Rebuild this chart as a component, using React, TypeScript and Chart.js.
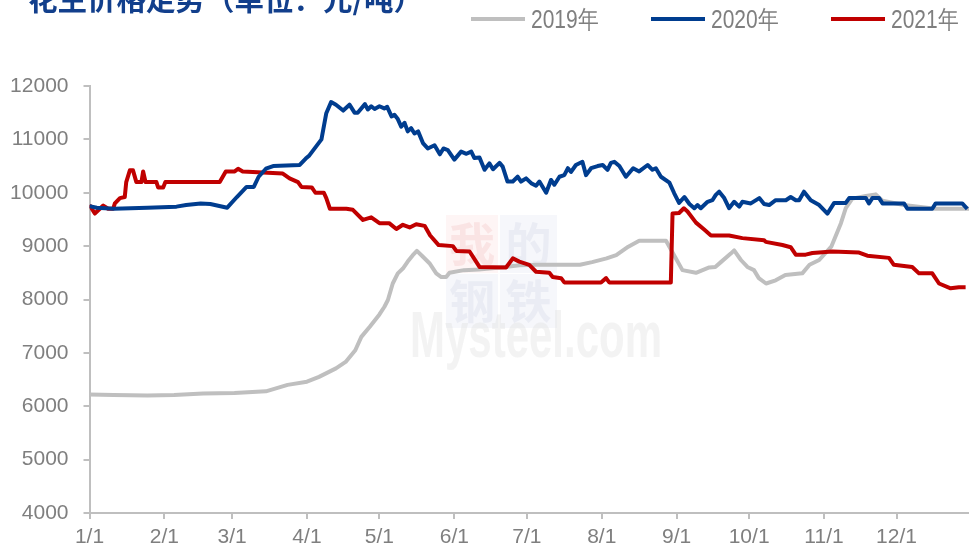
import React, { useEffect, useRef } from 'react';
import { Chart, registerables } from 'chart.js';

Chart.register(...registerables);

const titleText = '花生价格走势（单位：元/吨）';
const seriesNames = ['2019年', '2020年', '2021年'];
const seriesColors = ['#bfbfbf', '#003d8f', '#c00000'];

const monthTickDays = [0, 31, 59, 90, 120, 151, 181, 212, 243, 273, 304, 334];
const monthTickLabels = ['1/1', '2/1', '3/1', '4/1', '5/1', '6/1', '7/1', '8/1', '9/1', '10/1', '11/1', '12/1'];
const yMin = 4000;
const yMax = 12000;
const yStep = 1000;

const days2019 = [0, 10, 24, 35, 47, 60, 73, 82, 90, 95, 102, 106, 110, 112.5, 116, 120, 122, 123.5, 125.5, 127.6, 129.7, 131.7, 133.8, 135.5, 138, 140.7, 143.5, 145.6, 147.6, 149, 155, 161, 170, 178, 185, 203, 208, 214, 218, 223, 227.5, 238.6, 242.7, 245.4, 251, 256.5, 259, 261.3, 265.4, 266.8, 269.6, 272.3, 275, 277, 280, 284, 288, 295, 298, 302, 307, 311, 313, 315.7, 321.3, 325.4, 328.2, 337, 350, 364];
const price2019 = [6220, 6210, 6200, 6210, 6240, 6250, 6280, 6400, 6460, 6550, 6710, 6830, 7050, 7300, 7490, 7720, 7860, 7990, 8300, 8490, 8580, 8710, 8830, 8910, 8800, 8680, 8490, 8420, 8420, 8500, 8550, 8560, 8600, 8640, 8650, 8650, 8700, 8770, 8830, 8990, 9100, 9100, 8770, 8550, 8500, 8600, 8610, 8700, 8860, 8920, 8740, 8610, 8550, 8400, 8300, 8360, 8460, 8490, 8650, 8740, 8990, 9430, 9710, 9890, 9940, 9970, 9850, 9770, 9700, 9700];

const days2020 = [0, 3, 10, 24, 36, 40, 46, 50, 57, 61, 65, 68, 70, 73, 76, 87, 89.5, 91, 96, 98, 100, 102, 105, 107.6, 109.7, 111, 114, 115.2, 116.6, 118, 120, 122, 123.2, 125, 126.2, 127.6, 129, 130.4, 131.7, 133.1, 134.5, 136, 138, 140, 142.8, 145, 146.5, 148.3, 151, 153.8, 156, 158, 159.3, 161.4, 163.5, 165.5, 167, 169.7, 171, 173, 175.2, 177.2, 178.6, 180.7, 182.8, 184.8, 186.2, 189, 191, 192.4, 194.5, 196.5, 198, 199.3, 201.3, 204, 205.5, 207.6, 210.3, 212.4, 214.4, 215.8, 217.2, 219.3, 222, 225, 227.5, 231, 233, 234.4, 236.5, 240, 242, 244, 246.2, 248.3, 250.3, 251.6, 253, 255.8, 257.8, 259.2, 260.6, 262.7, 264.7, 266.8, 268.9, 270.2, 273.7, 277.2, 279.2, 281.3, 284, 288.2, 290.2, 292.3, 293.7, 295.7, 298.5, 302, 305.4, 308.2, 313, 314.4, 321.3, 322.6, 324, 326.8, 328.2, 337.1, 338.5, 348.8, 350.2, 361.2, 363.3];
const price2020 = [9750, 9720, 9700, 9720, 9740, 9770, 9800, 9790, 9720, 9920, 10110, 10110, 10300, 10450, 10500, 10520, 10640, 10700, 11000, 11490, 11700, 11650, 11540, 11650, 11500, 11500, 11660, 11560, 11620, 11570, 11620, 11580, 11610, 11430, 11460, 11380, 11240, 11310, 11150, 11210, 11110, 11150, 10930, 10830, 10890, 10720, 10830, 10800, 10620, 10770, 10730, 10770, 10650, 10660, 10430, 10550, 10440, 10560, 10490, 10210, 10210, 10300, 10210, 10270, 10180, 10130, 10210, 10000, 10240, 10150, 10300, 10330, 10460, 10390, 10520, 10580, 10330, 10460, 10500, 10520, 10430, 10560, 10580, 10500, 10300, 10460, 10400, 10520, 10430, 10460, 10300, 10190, 9990, 9810, 9920, 9790, 9710, 9770, 9710, 9830, 9860, 9960, 10020, 9900, 9710, 9830, 9740, 9830, 9800, 9900, 9790, 9770, 9860, 9860, 9920, 9860, 9860, 10020, 9860, 9770, 9610, 9810, 9810, 9900, 9900, 9800, 9900, 9900, 9800, 9800, 9700, 9700, 9800, 9800, 9700];

const days2021 = [0, 2.2, 5.7, 7.7, 9.8, 10.5, 12.6, 14.6, 15.2, 16.7, 18, 19.4, 21.5, 22.2, 23.2, 27.7, 28.4, 30.5, 31.4, 53.9, 56.4, 60.1, 61.5, 63.4, 71.7, 80, 82.8, 86.3, 87.7, 92, 93.5, 97, 98, 99.5, 106.3, 109, 113.2, 116.6, 120, 124, 127, 129.7, 132.5, 135.2, 138.7, 141, 144.5, 150.4, 151.8, 157.3, 161.4, 172.4, 175.2, 177.9, 182, 184.8, 190.3, 191.7, 195.2, 196.5, 211.7, 213.8, 215.1, 240.6, 241.3, 244, 246, 247.5, 251, 254.4, 257.2, 264.7, 270.2, 279.2, 279.9, 286.8, 290.2, 292.3, 296.4, 299.2, 307.4, 318.5, 321.9, 330.9, 332.9, 340.5, 343.3, 348.8, 351.6, 356.4, 359.8, 362.6];
const price2021 = [9770, 9610, 9760, 9700, 9700, 9800, 9900, 9920, 10200, 10420, 10420, 10200, 10200, 10400, 10200, 10200, 10100, 10100, 10200, 10200, 10400, 10400, 10450, 10400, 10380, 10360, 10270, 10200, 10110, 10100, 10000, 10000, 9900, 9700, 9700, 9680, 9490, 9540, 9430, 9430, 9320, 9400, 9350, 9410, 9380, 9200, 9020, 9000, 8910, 8900, 8610, 8600, 8770, 8710, 8650, 8520, 8500, 8420, 8400, 8320, 8320, 8400, 8320, 8320, 9610, 9620, 9710, 9650, 9440, 9310, 9200, 9200, 9150, 9110, 9080, 9020, 8980, 8840, 8840, 8870, 8900, 8880, 8820, 8780, 8650, 8610, 8490, 8490, 8300, 8210, 8230, 8230];

const allDays = [days2019, days2020, days2021];
const allPrices = [price2019, price2020, price2021];

const axisFont = "'Liberation Sans', Arial, sans-serif";
const cjkFont = "'Noto Sans CJK SC', 'Noto Sans', sans-serif";

const decorPlugin = {
  id: 'decor',
  beforeDatasetsDraw(chart: any) {
    const ctx = chart.ctx as CanvasRenderingContext2D;
    ctx.save();
    const boxes = [
      { x: 446, y: 215, w: 52, h: 58, bg: '#fef5f5', fg: '#fae4e4', ch: '我' },
      { x: 500, y: 215, w: 57, h: 58, bg: '#f6f7fb', fg: '#eaecf4', ch: '的' },
      { x: 446, y: 274, w: 52, h: 54, bg: '#f6f7fb', fg: '#eaecf4', ch: '钢' },
      { x: 500, y: 274, w: 57, h: 54, bg: '#f6f7fb', fg: '#eaecf4', ch: '铁' },
    ];
    for (const b of boxes) {
      ctx.fillStyle = b.bg;
      ctx.fillRect(b.x, b.y, b.w, b.h);
      ctx.fillStyle = b.fg;
      ctx.font = `bold 46px ${cjkFont}`;
      ctx.textAlign = 'center';
      ctx.textBaseline = 'middle';
      ctx.fillText(b.ch, b.x + b.w / 2, b.y + b.h / 2);
    }
    ctx.font = `bold 64px 'Liberation Sans', Arial, sans-serif`;
    ctx.textAlign = 'left';
    ctx.textBaseline = 'alphabetic';
    const wm = 'Mysteel.com';
    const w = ctx.measureText(wm).width;
    ctx.translate(410, 357);
    ctx.scale(252 / w, 1);
    ctx.fillStyle = 'rgba(225,225,225,0.4)';
    ctx.fillText(wm, 0, 0);
    ctx.restore();
  },
  afterDraw(chart: any) {
    const ctx = chart.ctx as CanvasRenderingContext2D;
    ctx.save();
    ctx.font = `bold 29.5px ${cjkFont}`;
    ctx.fillStyle = '#123f8c';
    ctx.textAlign = 'left';
    ctx.textBaseline = 'alphabetic';
    ctx.fillText(titleText, 28, 10);
    chart.data.datasets.forEach((ds: any, i: number) => {
      const x0 = 471 + 180 * i;
      ctx.strokeStyle = ds.borderColor;
      ctx.lineWidth = 4;
      ctx.beginPath();
      ctx.moveTo(x0, 19);
      ctx.lineTo(x0 + 54, 19);
      ctx.stroke();
      ctx.fillStyle = '#7f7f7f';
      ctx.font = `21px ${axisFont}`;
      ctx.save();
      ctx.translate(x0 + 60, 28);
      ctx.scale(1, 1.2);
      ctx.fillText(ds.label, 0, 0);
      ctx.restore();
    });
    ctx.restore();
  },
};

export default function App() {
  const canvasRef = useRef<HTMLCanvasElement | null>(null);

  useEffect(() => {
    const canvas = canvasRef.current;
    if (!canvas) return;
    const datasets = seriesNames.map((name, i) => ({
      label: name,
      data: allDays[i].map((d, j) => ({ x: d, y: allPrices[i][j] })),
      borderColor: seriesColors[i],
      backgroundColor: seriesColors[i],
      borderWidth: 4,
      pointRadius: 0,
      tension: 0,
      fill: false,
      borderJoinStyle: 'round' as const,
      order: i === 0 ? 3 : i === 1 ? 1 : 2,
    }));
    const chart = new Chart(canvas, {
      type: 'line',
      data: { datasets },
      plugins: [decorPlugin],
      options: {
        responsive: false,
        animation: false,
        devicePixelRatio: 1,
        layout: { padding: { top: 86, left: 0, right: 0, bottom: 0 } },
        plugins: {
          legend: { display: false },
          tooltip: { enabled: false },
          title: { display: false },
        },
        scales: {
          x: {
            type: 'linear',
            min: 0,
            max: 364,
            afterBuildTicks: (scale: any) => {
              scale.ticks = monthTickDays.map((v) => ({ value: v }));
            },
            afterFit: (scale: any) => {
              scale.height = 41;
            },
            ticks: {
              autoSkip: false,
              maxRotation: 0,
              padding: 6,
              color: '#7f7f7f',
              font: { family: axisFont, size: 21 },
              callback: (_v: any, idx: number) => monthTickLabels[idx] ?? '',
            },
            grid: {
              display: true,
              drawOnChartArea: false,
              drawTicks: true,
              tickLength: 6,
              color: '#bfbfbf',
              lineWidth: 2,
            },
            border: { display: true, color: '#bfbfbf', width: 2 },
          },
          y: {
            type: 'linear',
            min: yMin,
            max: yMax,
            afterFit: (scale: any) => {
              scale.width = 89.5;
            },
            ticks: {
              stepSize: yStep,
              padding: 15,
              color: '#7f7f7f',
              font: { family: axisFont, size: 21 },
              callback: (v: any) => String(v),
            },
            grid: {
              display: true,
              drawOnChartArea: false,
              drawTicks: true,
              tickLength: 6,
              color: '#bfbfbf',
              lineWidth: 2,
            },
            border: { display: true, color: '#bfbfbf', width: 2 },
          },
        },
      },
    });
    return () => chart.destroy();
  }, []);

  return (
    <div style={{ position: 'absolute', left: 0, top: 0, width: 969, height: 554, background: '#ffffff' }}>
      <canvas ref={canvasRef} width={969} height={554} style={{ width: 969, height: 554, display: 'block' }} />
    </div>
  );
}
